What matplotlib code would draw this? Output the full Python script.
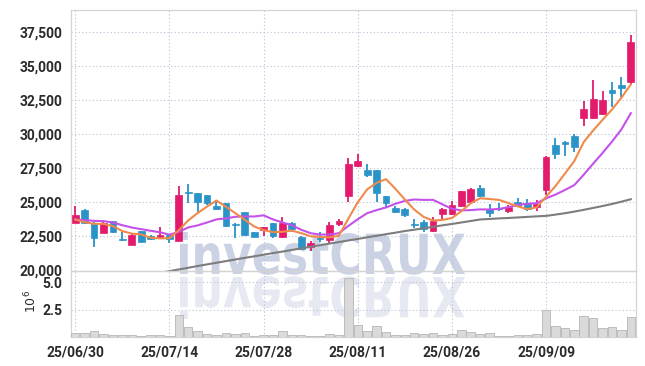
import matplotlib
matplotlib.use('Agg')
import matplotlib.pyplot as plt
import numpy as np
from matplotlib.textpath import TextPath
from matplotlib.font_manager import FontProperties
from matplotlib.patches import PathPatch
from matplotlib.path import Path
from matplotlib.transforms import IdentityTransform
from matplotlib.ticker import FuncFormatter, FixedLocator

# ---------------- data ----------------
dates = ['25/06/30', '25/07/01', '25/07/02', '25/07/03', '25/07/04',
         '25/07/07', '25/07/08', '25/07/09', '25/07/10', '25/07/11',
         '25/07/14', '25/07/15', '25/07/16', '25/07/17', '25/07/18',
         '25/07/21', '25/07/22', '25/07/23', '25/07/24', '25/07/25',
         '25/07/28', '25/07/29', '25/07/30', '25/07/31', '25/08/01',
         '25/08/04', '25/08/05', '25/08/06', '25/08/07', '25/08/08',
         '25/08/11', '25/08/12', '25/08/13', '25/08/14', '25/08/18',
         '25/08/19', '25/08/20', '25/08/21', '25/08/22', '25/08/25',
         '25/08/26', '25/08/27', '25/08/28', '25/08/29', '25/09/01',
         '25/09/02', '25/09/03', '25/09/04', '25/09/05', '25/09/08',
         '25/09/09', '25/09/10', '25/09/11', '25/09/12', '25/09/15',
         '25/09/16', '25/09/17', '25/09/18', '25/09/19', '25/09/22']

opens = [23506, 24437, 23506, 22770, 23628, 22305, 21888, 22868, 22501, 22428,
         22575, 22182, 25760, 25686, 25539, 24730, 24953, 23410, 24292, 22822,
         22944, 23459, 22430, 23459, 22479, 21744, 22356, 22234, 23385, 25492,
         27697, 27378, 27378, 25466, 24609, 24511, 23409, 23579, 22918, 24167,
         24118, 24755, 25049, 26029, 24510, 24559, 24388, 25049, 24975, 24681,
         25912, 29219, 29440, 29880, 31228, 31228, 31522, 33262, 33629, 33874]
highs = [24730, 24485, 23530, 23579, 23650, 22844, 22648, 22900, 22599, 23212,
         22600, 26200, 26348, 25710, 25560, 25171, 24980, 23459, 24310, 22840,
         23190, 23480, 23900, 23580, 22528, 22185, 22846, 23581, 23777, 28285,
         28555, 27795, 27400, 25500, 24732, 24560, 23750, 23702, 23947, 24560,
         25122, 25860, 26029, 26274, 24853, 24975, 24804, 25294, 25220, 25171,
         28410, 29709, 29513, 30003, 32478, 34000, 33213, 33874, 34242, 37304]
lows = [23456, 23432, 21692, 22721, 22721, 22182, 21840, 22085, 22231, 22403,
        21986, 22133, 24975, 24314, 24828, 24460, 23164, 22405, 22528, 22455,
        22528, 22356, 22405, 22846, 21548, 21450, 22111, 21989, 23263, 25002,
        27575, 26888, 25000, 24683, 24193, 23948, 23090, 22844, 22820, 23750,
        24069, 24700, 24975, 25368, 23947, 24388, 24192, 24632, 24388, 24363,
        25544, 28165, 28435, 28680, 30616, 31105, 31450, 31988, 32772, 33629]
closes = [24069, 23506, 22403, 23506, 22844, 22231, 22575, 22109, 22280, 22599,
          22305, 25539, 25686, 25000, 24975, 24510, 23263, 23336, 22601, 22479,
          23164, 22528, 23459, 23018, 21572, 21989, 22283, 23311, 23630, 27820,
          28040, 27011, 25712, 24976, 24290, 24095, 23310, 23016, 23653, 24510,
          24804, 25808, 25955, 25466, 24240, 24486, 24632, 24730, 24486, 24877,
          28362, 28582, 29317, 29096, 31865, 32600, 32527, 33066, 33433, 36790]
volumes = [0.39, 0.39, 0.57, 0.30, 0.21, 0.21, 0.21, 0.12, 0.21, 0.21,
           0.12, 2.05, 0.93, 0.57, 0.30, 0.21, 0.39, 0.30, 0.39, 0.12,
           0.21, 0.21, 0.57, 0.21, 0.21, 0.12, 0.12, 0.30, 0.21, 5.42,
           1.14, 0.57, 1.02, 0.48, 0.21, 0.21, 0.39, 0.30, 0.39, 0.21,
           0.30, 0.66, 0.48, 0.30, 0.39, 0.12, 0.12, 0.21, 0.21, 0.30,
           2.50, 1.02, 0.84, 0.66, 1.96, 1.75, 0.84, 0.93, 0.66, 1.84]
ma5 = [23750, 23550, 23430, 23430, 23266, 22898, 22712, 22653, 22408, 22359,
       22374, 22966, 23682, 24226, 24701, 25142, 24687, 24217, 23737, 23238,
       22969, 22822, 22846, 22930, 22748, 22513, 22464, 22435, 22557, 23807,
       25017, 25962, 26443, 26712, 26006, 25217, 24477, 23937, 23673, 23717,
       23859, 24358, 24946, 25309, 25255, 25191, 24956, 24711, 24515, 24642,
       25417, 26207, 27125, 28047, 29444, 30292, 31081, 31831, 32698, 33683]
ma10 = [23750, 23700, 23650, 23630, 23530, 23330, 23160, 23040, 22920, 22812,
        22636, 22839, 23167, 23317, 23530, 23758, 23827, 23949, 23981, 23969,
        24055, 23754, 23532, 23333, 22993, 22741, 22643, 22640, 22743, 23277,
        23765, 24213, 24439, 24634, 24906, 25117, 25220, 25190, 25192, 24861,
        24538, 24417, 24442, 24491, 24486, 24525, 24657, 24828, 24912, 24948,
        25304, 25582, 25918, 26281, 27043, 27855, 28644, 29478, 30373, 31564]
ma60 = [18700, 18830, 18950, 19080, 19200, 19330, 19450, 19580, 19700, 19830,
        19950, 20080, 20200, 20330, 20450, 20570, 20690, 20810, 20930, 21040,
        21160, 21280, 21390, 21510, 21630, 21740, 21860, 21980, 22090, 22210,
        22320, 22440, 22550, 22670, 22780, 22900, 23000, 23110, 23210, 23320,
        23420, 23530, 23640, 23750, 23790, 23830, 23860, 23900, 23940, 23980,
        24015, 24110, 24210, 24330, 24460, 24600, 24740, 24890, 25060, 25239]
tick_labels = ['25/06/30', '25/07/14', '25/07/28', '25/08/11', '25/08/26', '25/09/09']

# ---------------- style ----------------
UP = '#e31b6c'
DOWN = '#2a93c8'
GRID = '#b9c0d6'
SPINE = '#d4d4d4'
TXT = '#2b2b2b'
tick_font = FontProperties(family=['Roboto', 'DejaVu Sans'], weight='bold', size=10)

W, H = 645, 366
fig = plt.figure(figsize=(W / 100, H / 100), dpi=100, facecolor='white')

L, R = 71, 636
ax = fig.add_axes([L / W, 1 - 270.5 / H, (R - L) / W, (270.5 - 10) / H])
axv = fig.add_axes([L / W, 1 - 337 / H, (R - L) / W, (337 - 270.5) / H], sharex=ax)
for a in (ax, axv):
    a.set_facecolor('none')
    for s in a.spines.values():
        s.set_color(SPINE)
        s.set_linewidth(0.9)
    a.grid(True, linestyle=(0, (1, 2.2)), color=GRID, linewidth=0.8)
    a.set_axisbelow(True)
    a.tick_params(length=0, pad=6, colors=TXT)

x = np.arange(len(dates))
o = np.array(opens, float); c = np.array(closes, float)
h = np.array(highs, float); lo = np.array(lows, float)
up = c >= o
cols = np.where(up, UP, DOWN)

# wicks
ax.vlines(x, lo, h, colors=cols, linewidth=1.3, zorder=3)
# bodies
bottoms = np.minimum(o, c)
heights = np.maximum(np.abs(c - o), 40)
ax.bar(x, heights, bottom=bottoms, width=0.72, color=cols, edgecolor=cols,
       linewidth=0.5, zorder=4)

# moving averages
ax.plot(x, ma60, color='#7d7d7d', linewidth=1.5, zorder=5)
ax.plot(x, ma10, color='#c452ea', linewidth=1.5, zorder=5)
ax.plot(x, ma5, color='#f08a4b', linewidth=1.5, zorder=6)

ax.set_ylim(20000, 39150)
ax.set_xlim(-0.45, len(dates) - 0.45)
ax.yaxis.set_major_locator(FixedLocator(np.arange(20000, 37501, 2500)))
ax.yaxis.set_major_formatter(FuncFormatter(lambda v, p: f'{int(v):,}'))
for lab in ax.get_yticklabels():
    lab.set_fontproperties(tick_font)
plt.setp(ax.get_xticklabels(), visible=False)

# volume
axv.bar(x, volumes, width=0.9, color='#d8d8d8', edgecolor='#b3b3b3',
        linewidth=0.6, zorder=3, alpha=0.95)
axv.set_ylim(0, 6.1)
axv.yaxis.set_major_locator(FixedLocator([2.5, 5.0]))
axv.yaxis.set_major_formatter(FuncFormatter(lambda v, p: f'{v:.1f}'))
tick_pos = [dates.index(t) for t in tick_labels]
axv.set_xticks(tick_pos)
axv.set_xticklabels(tick_labels)
for lab in axv.get_yticklabels() + axv.get_xticklabels():
    lab.set_fontproperties(tick_font)
fig.text(31 / W, 1 - 301 / H, r'$10^6$', rotation=90, ha='center', va='center',
         fontsize=9, color=TXT)

# watermark + reflection
wm_prop = FontProperties(family='DejaVu Sans', weight='bold')
tp = TextPath((0, 0), 'investCRUX', size=1, prop=wm_prop)
ext = tp.get_extents()
sx = (465 - 180) / ext.width
sy = 42 / ext.y1
base = H - 274
verts = tp.vertices.copy()
v1 = np.column_stack([180 + (verts[:, 0] - ext.x0) * sx, base + verts[:, 1] * sy])
fig.add_artist(PathPatch(Path(v1, tp.codes), transform=IdentityTransform(),
                         facecolor='#cbd2e4', edgecolor='none', zorder=-1))
rb = H - 277
v2 = np.column_stack([180 + (verts[:, 0] - ext.x0) * sx, rb - verts[:, 1] * sy])
fig.add_artist(PathPatch(Path(v2, tp.codes), transform=IdentityTransform(),
                         facecolor='#e6e9f1', edgecolor='none', zorder=-1))

fig.savefig('out.png', dpi=100, facecolor='white')
